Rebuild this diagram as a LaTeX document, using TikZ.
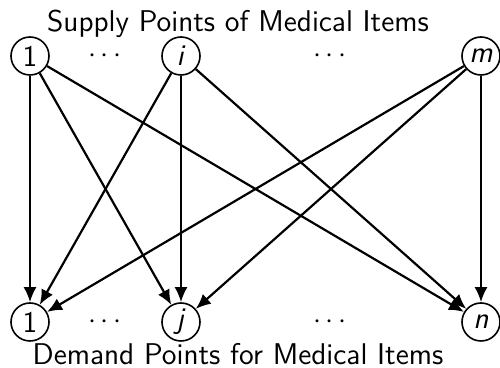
\documentclass[tikz,border=0pt]{standalone}
\usetikzlibrary{arrows.meta}
\begin{document}
\begin{tikzpicture}[x=0.5pt,y=-0.5pt,
  font=\sffamily\fontsize{15}{18}\selectfont,
  pt/.style={circle,draw,line width=0.8pt,minimum size=19pt,inner sep=0pt},
  dotsnode/.style={inner sep=0pt},
  arr/.style={-{Latex[length=7.5pt,width=6.5pt]},line width=1.1pt}]
\useasboundingbox (0,0) rectangle (500,368);
\node[anchor=base] (toptitle) at (238,32) {Supply Points of Medical Items};
\node[anchor=base] (bottitle) at (238,365) {Demand Points for Medical Items};
\node[pt] (s1) at (30,56) {1};
\node[pt] (si) at (181,56) {\textit{i}};
\node[pt] (sm) at (481,56) {\textit{m}};
\node[pt] (d1) at (30,322) {1};
\node[pt] (dj) at (181,322) {\textit{j}};
\node[pt] (dn) at (481,322) {\textit{n}};
\node[dotsnode] (dots1) at (105,56) {$\cdots$};
\node[dotsnode] (dots2) at (330,56) {$\cdots$};
\node[dotsnode] (dots3) at (105,322) {$\cdots$};
\node[dotsnode] (dots4) at (330,322) {$\cdots$};
\foreach \s in {s1,si,sm}
  \foreach \d in {d1,dj,dn}
    \draw[arr] (\s) -- (\d);
\end{tikzpicture}
\end{document}
